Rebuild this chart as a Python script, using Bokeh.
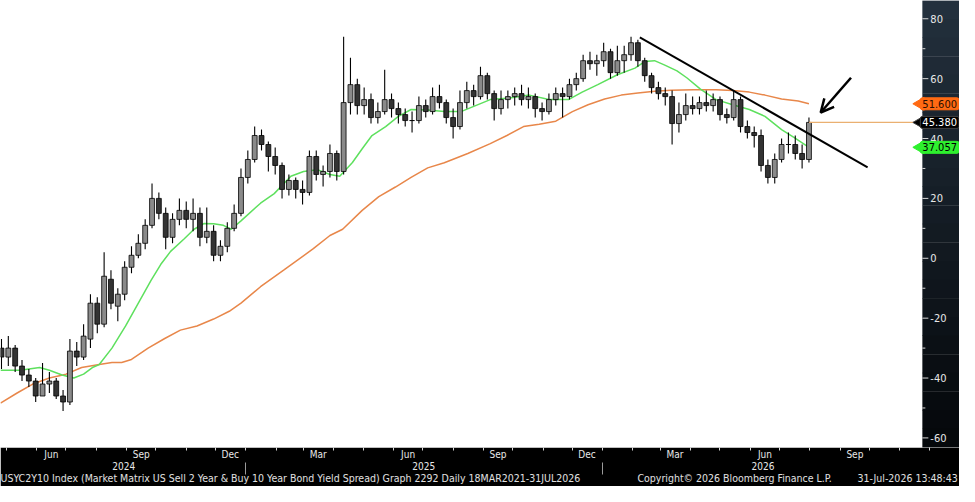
import math
import pandas as pd
from bokeh.plotting import figure
from bokeh.models import (FixedTicker, DatetimeTickFormatter, DatetimeAxis,
                          CustomJSTickFormatter, Label, Arrow, OpenHead, Range1d, ColumnDataSource)
from bokeh.core.properties import value
from bokeh.embed import file_html
from bokeh.resources import INLINE

# ---------------- data (weekly OHLC) ----------------
first_week = "2024-04-26"
opens = [-30, -33, -30, -36, -39, -41, -46, -42, -41, -46, -48, -31, -33, -27, -15, -22, -7, -16, -12, -3,
         1, 5, 11, 20, 15, 7, 13, 16, 13, 15, 7, 9, 1, 4, 10, 15, 27, 33, 41, 38,
         34, 31, 23, 26, 23, 22, 34, 28, 29, 35, 29, 52, 58, 51, 53, 47, 49, 53, 50, 48,
         46, 46, 51, 49, 54, 52, 47, 44, 52, 56, 54, 61, 55, 50, 53, 54, 55, 53, 54, 50,
         49, 53, 55, 54, 58, 60, 66, 65, 66, 69, 62, 66, 68, 72, 66, 61, 57, 55, 54, 45,
         48, 51, 50, 52, 51, 53, 48, 47, 53, 44, 42, 41, 31, 27, 33, 38, 38, 35, 33]
highs = [-27, -26, -29, -34, -37, -40, -35, -38, -40, -44, -27, -28, -22, -12, -13, 2, -4, -10, -1, 4,
         8, 13, 25, 22, 17, 15, 20, 19, 20, 17, 17, 11, 6, 12, 18, 30, 36, 44, 43, 39,
         37, 32, 28, 27, 26, 36, 36, 31, 38, 36, 74, 67, 60, 57, 55, 52, 63, 55, 52, 50,
         49, 54, 53, 57, 58, 53, 50, 56, 59, 58, 64, 62, 56, 56, 56, 57, 58, 57, 55, 52,
         55, 57, 57, 60, 62, 68, 69, 68, 72, 70, 71, 71, 74, 73, 67, 62, 59, 57, 56, 52,
         55, 54, 54, 56, 55, 54, 50, 56, 54, 46, 44, 43, 33, 35, 40, 42, 41, 38, 47]
lows = [-37, -36, -38, -41, -43, -48, -46, -45, -47, -51, -49, -36, -34, -30, -25, -23, -17, -21, -14, -5,
        0, 3, 10, 13, 3, 5, 11, 10, 9, 4, 5, -1, -1, 2, 9, 14, 25, 32, 36, 29,
        28, 20, 21, 20, 18, 21, 26, 24, 27, 26, 28, 48, 48, 48, 45, 45, 48, 47, 45, 44,
        42, 45, 47, 48, 50, 45, 40, 43, 50, 51, 53, 53, 46, 48, 50, 51, 51, 50, 47, 46,
        48, 51, 47, 53, 56, 59, 63, 61, 64, 60, 61, 62, 66, 64, 59, 55, 53, 51, 38, 42,
        46, 48, 48, 49, 49, 46, 45, 46, 42, 40, 37, 29, 25, 25, 32, 35, 33, 30, 32]
closes = [-33, -30, -36, -39, -41, -46, -42, -41, -46, -48, -31, -33, -26, -15, -22, -6, -15, -12, -3, 1,
          5, 11, 20, 15, 7, 13, 16, 13, 15, 7, 9, 1, 4, 10, 15, 27, 33, 41, 38, 34,
          31, 23, 26, 23, 22, 34, 28, 29, 35, 29, 52, 58, 51, 53, 47, 49, 53, 50, 48, 46,
          46, 51, 49, 54, 52, 47, 44, 52, 56, 54, 61, 55, 50, 53, 54, 55, 53, 54, 50, 49,
          53, 55, 54, 58, 60, 66, 65, 66, 69, 62, 66, 68, 72, 66, 61, 57, 55, 54, 45, 48,
          51, 50, 52, 51, 53, 48, 47, 53, 44, 42, 41, 31, 27, 33, 38, 38, 35, 33, 45.38]

ma50_dates = ["2024-04-25", "2024-05-15", "2024-06-04", "2024-06-14", "2024-06-27", "2024-07-09", "2024-07-19",
              "2024-07-28", "2024-08-04", "2024-08-17", "2024-08-31", "2024-09-13", "2024-09-26", "2024-10-06",
              "2024-10-16", "2024-10-30", "2024-11-09", "2024-11-19", "2024-11-29", "2024-12-09", "2024-12-17",
              "2024-12-27", "2025-01-16", "2025-01-30", "2025-02-16", "2025-03-01", "2025-03-15", "2025-03-28",
              "2025-04-07", "2025-04-20", "2025-04-30", "2025-05-10", "2025-05-24", "2025-06-06", "2025-06-19",
              "2025-07-06", "2025-07-23", "2025-08-09", "2025-09-08", "2025-09-28", "2025-10-18", "2025-11-07",
              "2025-11-27", "2025-12-11", "2025-12-27", "2026-01-16", "2026-02-03", "2026-02-13", "2026-02-23",
              "2026-03-05", "2026-03-18", "2026-03-28", "2026-04-11", "2026-04-27", "2026-05-14", "2026-05-31",
              "2026-06-16", "2026-07-03", "2026-07-16", "2026-07-31"]
ma50_vals = [-37.4, -37.4, -36.5, -37.4, -39.0, -40.0, -38.7, -36.5, -35.5, -30.0, -22.6, -15.0, -7.4, -2.0,
             2.3, 6.5, 9.7, 11.6, 11.5, 11.0, 9.7, 12.5, 18.4, 21.6, 27.4, 29.0, 29.6, 28.0,
             27.4, 32.0, 36.6, 41.0, 44.0, 47.4, 49.7, 49.5, 49.0, 49.0, 53.0, 53.5, 54.5, 53.0,
             53.0, 55.5, 58.0, 61.3, 63.5, 65.7, 66.0, 64.6, 62.6, 60.3, 56.5, 53.0, 51.3, 49.7,
             47.4, 43.0, 40.3, 37.057]

ma200_dates = ["2024-04-25", "2024-05-12", "2024-05-28", "2024-06-14", "2024-07-01", "2024-07-17", "2024-08-04",
               "2024-08-17", "2024-08-27", "2024-09-06", "2024-09-23", "2024-10-10", "2024-10-26", "2024-11-12",
               "2024-11-29", "2024-12-15", "2024-12-27", "2025-01-16", "2025-02-09", "2025-03-11", "2025-03-28",
               "2025-04-10", "2025-04-30", "2025-05-17", "2025-06-03", "2025-06-19", "2025-07-06", "2025-07-23",
               "2025-08-16", "2025-09-08", "2025-09-25", "2025-10-12", "2025-10-28", "2025-11-14", "2025-12-01",
               "2025-12-17", "2026-01-03", "2026-01-20", "2026-02-06", "2026-02-23", "2026-03-12", "2026-04-04",
               "2026-04-27", "2026-05-14", "2026-05-31", "2026-06-16", "2026-07-03", "2026-07-20", "2026-07-31"]
ma200_vals = [-48.4, -45.0, -42.0, -40.0, -38.7, -36.5, -35.5, -34.8, -34.8, -33.8, -30.0, -26.8, -24.0, -22.6,
              -20.3, -17.7, -15.0, -9.5, -3.9, 3.2, 7.6, 9.7, 16.0, 20.6, 23.8, 27.0, 30.2, 31.9,
              35.0, 38.3, 41.0, 44.0, 44.8, 45.8, 49.0, 51.3, 53.2, 54.5, 55.2, 55.8, 56.1, 56.3,
              56.3, 56.0, 55.5, 54.5, 53.2, 52.5, 51.6]

trend_dates = ["2026-02-08", "2026-09-29"]
trend_vals = [73.8, 30.4]
arrow_from = ("2026-09-12", 60.3)
arrow_to = ("2026-08-12", 48.7)

last_price = 45.380
last_ma200 = 51.600
last_ma50 = 37.057

y_ticks = [-60, -40, -20, 0, 20, 40, 60, 80]
y_minor = [-50, -30, -10, 10, 30, 50, 70]
month_labels = ["2024-06-16", "2024-09-16", "2024-12-16", "2025-03-16", "2025-06-16", "2025-09-16",
                "2025-12-16", "2026-03-16", "2026-06-16", "2026-09-16"]
year_labels = ["2024-08-29", "2025-07-02", "2026-06-14"]
year_breaks = ["2025-01-01", "2026-01-01"]
footer_texts = ["USYC2Y10 Index (Market Matrix US Sell 2 Year & Buy 10 Year Bond Yield Spread) Graph 2292 Daily 18MAR2021-31JUL2026",
                "Copyright\u00a9 2026 Bloomberg Finance L.P.",
                "31-Jul-2026 13:48:43"]
footer_at = ["2025-02-10", "2026-05-16", "2026-11-09"]

# ---------------- build ----------------
def ms(d):
    return pd.Timestamp(d).value / 1e6

FONT = "'Liberation Sans Narrow', 'DejaVu Sans Condensed', 'Arial Narrow', sans-serif"
DAY = 86400000.0
Y0, Y1 = -63.2, 86.1
band_start = pd.Timestamp("2026-11-24")      # left edge of the price-axis panel
x_end = pd.Timestamp("2027-01-01")

dates = pd.date_range(first_week, periods=len(closes), freq="7D")
up = [c >= o for o, c in zip(opens, closes)]
src = ColumnDataSource(dict(
    date=dates, o=opens, h=highs, l=lows, c=closes,
    top=[max(o, c) for o, c in zip(opens, closes)],
    bot=[min(o, c) for o, c in zip(opens, closes)],
    fill=["#8a8a8a" if u else "#333333" for u in up],
))

p = figure(width=959, height=486, x_axis_type="datetime", y_axis_location=None,
           output_backend="svg", toolbar_location=None,
           x_range=Range1d(pd.Timestamp("2024-04-25"), x_end),
           y_range=Range1d(Y0, Y1),
           min_border_left=0, min_border_top=0, min_border_right=0, min_border_bottom=0)
p.background_fill_color = "white"
p.border_fill_color = "black"
p.outline_line_color = None
p.grid.visible = False

# moving averages
p.line(pd.to_datetime(ma200_dates), ma200_vals, line_color="#e8874a", line_width=1.5)
p.line(pd.to_datetime(ma50_dates), ma50_vals, line_color="#5ee05e", line_width=1.5)

# candles
p.segment(x0="date", y0="h", x1="date", y1="l", source=src, line_color="black", line_width=1.1)
p.vbar(x="date", width=5.0 * DAY, top="top", bottom="bot", source=src,
       fill_color="fill", line_color="black", line_width=0.8)

# last price line
p.segment(x0=[dates[-1]], y0=[last_price], x1=[band_start], y1=[last_price],
          line_color="#eab071", line_width=1.2)

# trend line and arrow
p.line(pd.to_datetime(trend_dates), trend_vals, line_color="black", line_width=2)
p.add_layout(Arrow(end=OpenHead(size=13, line_width=2.5, line_color="black"),
                   x_start=ms(arrow_from[0]), y_start=arrow_from[1],
                   x_end=ms(arrow_to[0]), y_end=arrow_to[1],
                   line_width=2.5, line_color="black"))

# price-axis panel (dark gradient band on the right)
n_strips = 24
top_rgb, bot_rgb = (0x23, 0x30, 0x3d), (0x05, 0x08, 0x0b)
for k in range(n_strips):
    t = k / (n_strips - 1)
    col = "#%02x%02x%02x" % tuple(int(a + (b - a) * t) for a, b in zip(top_rgb, bot_rgb))
    yt = Y1 - (Y1 - Y0) * k / n_strips
    yb = Y1 - (Y1 - Y0) * (k + 1) / n_strips
    p.quad(left=[band_start], right=[x_end + pd.Timedelta(days=5)], top=[yt + 0.05], bottom=[yb - 0.05],
           fill_color=col, line_color=None)

px_day = 1.023  # days per pixel on this axis
p.segment(x0=[band_start] * len(y_ticks), y0=y_ticks,
          x1=[band_start + pd.Timedelta(days=6 * px_day)] * len(y_ticks), y1=y_ticks,
          line_color="#d8d8d8", line_width=1)
p.segment(x0=[band_start] * len(y_minor), y0=y_minor,
          x1=[band_start + pd.Timedelta(days=3 * px_day)] * len(y_minor), y1=y_minor,
          line_color="#d8d8d8", line_width=1)
p.text(x=[band_start + pd.Timedelta(days=8 * px_day)] * len(y_ticks), y=y_ticks,
       text=[str(v) for v in y_ticks], text_baseline="middle", text_align="left",
       text_font=value(FONT), text_font_size="11px", text_color="#e8e8e8")

# value tags on the price axis (pointed on the left)
tag_start = band_start - pd.Timedelta(days=2 * px_day)
tags = [(last_ma200, "#ff6a13", "#2a0e00"), (last_price, "black", "white"), (last_ma50, "#2ef02e", "black")]
for val, bg, fg in tags:
    p.scatter(x=[tag_start], y=[val], marker="triangle", size=13, angle=math.pi / 2,
              fill_color=bg, line_color="#404040" if bg == "black" else bg)
    p.add_layout(Label(x=ms(tag_start), y=val, text=f"{val:.3f}", text_baseline="middle", text_align="left",
                       text_font=FONT, text_font_size="11px", text_color=fg,
                       background_fill_color=bg, background_fill_alpha=1.0,
                       border_line_color="#404040" if bg == "black" else bg,
                       padding=2, border_radius=2))

# x axis: months
xa = p.xaxis[0]
xa.ticker = FixedTicker(ticks=[ms(d) for d in month_labels],
                        minor_ticks=[ms(d) for d in pd.date_range("2024-05-01", "2026-12-01", freq="MS")])
xa.formatter = DatetimeTickFormatter(days="%b", months="%b", years="%b", hours="%b")
xa.axis_line_color = None
xa.major_tick_out = 0
xa.major_tick_in = 0
xa.minor_tick_out = 3
xa.minor_tick_in = 0
xa.minor_tick_line_color = "#d8d8d8"
xa.major_label_text_color = "#e8e8e8"
xa.major_label_text_font = FONT
xa.major_label_text_font_size = "10px"
xa.major_label_standoff = -2

# x axis: years
ya2 = DatetimeAxis(ticker=FixedTicker(ticks=[ms(d) for d in year_labels],
                                      minor_ticks=[ms(d) for d in year_breaks]),
                   formatter=DatetimeTickFormatter(days="%Y", months="%Y", years="%Y", hours="%Y"))
ya2.axis_line_color = None
ya2.major_tick_out = 0
ya2.major_tick_in = 0
ya2.minor_tick_out = 12
ya2.minor_tick_in = 0
ya2.minor_tick_line_color = "#9a9a9a"
ya2.major_label_text_color = "#e8e8e8"
ya2.major_label_text_font = FONT
ya2.major_label_text_font_size = "10px"
ya2.major_label_standoff = -13
p.add_layout(ya2, "below")

# footer line
fa = DatetimeAxis(ticker=FixedTicker(ticks=[ms(d) for d in footer_at], minor_ticks=[]),
                  formatter=CustomJSTickFormatter(args=dict(labels=footer_texts), code="return labels[index]"))
fa.axis_line_color = None
fa.major_tick_out = 0
fa.major_tick_in = 0
fa.major_label_text_color = "#e0e0e0"
fa.major_label_text_font = FONT
fa.major_label_text_font_size = "10.5px"
fa.major_label_standoff = -1
p.add_layout(fa, "below")

open("out.html", "w").write(file_html(p, INLINE))
